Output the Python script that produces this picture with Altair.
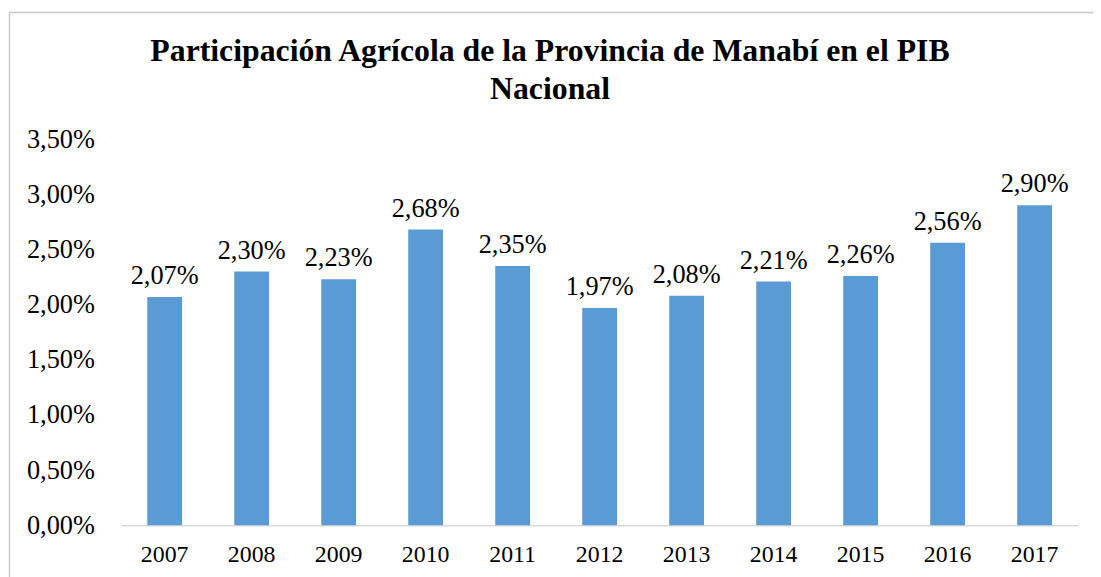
import altair as alt
import pandas as pd

years = ["2007", "2008", "2009", "2010", "2011", "2012", "2013", "2014", "2015", "2016", "2017"]
values = [2.07, 2.30, 2.23, 2.68, 2.35, 1.97, 2.08, 2.21, 2.26, 2.56, 2.90]
y_ticks = [0, 0.5, 1.0, 1.5, 2.0, 2.5, 3.0, 3.5]
title_lines = ["Participación Agrícola de la Provincia de Manabí en el PIB", "Nacional"]

df = pd.DataFrame({"year": years, "value": values})

FONT = "Liberation Serif"
W, H = 964, 389

x_enc = alt.X("year:N", sort=years,
              scale=alt.Scale(paddingInner=0.6, paddingOuter=0.3),
              axis=alt.Axis(title=None, labelAngle=0, ticks=False, domain=True,
                            domainColor="#d9d9d9", domainWidth=1.5,
                            labelFont=FONT, labelFontSize=24, labelColor="#000000",
                            labelPadding=17))
y_enc = alt.Y("value:Q",
              scale=alt.Scale(domain=[0, 3.5], nice=False, zero=True),
              axis=alt.Axis(title=None, values=y_ticks, grid=False, domain=False,
                            ticks=False, labelFont=FONT, labelFontSize=26.5,
                            labelColor="#000000", labelPadding=27,
                            labelExpr="replace(format(datum.value, '.2f'), '.', ',') + '%'"))

bars = alt.Chart(df).mark_bar(color="#5b9bd5").encode(x=x_enc, y=y_enc)

labels = alt.Chart(df).transform_calculate(
    lbl="replace(format(datum.value, '.2f'), '.', ',') + '%'"
).mark_text(font=FONT, fontSize=26.5, color="#000000", baseline="alphabetic",
            align="center", dy=-13).encode(x=alt.X("year:N", sort=years), y="value:Q", text="lbl:N")

frame = alt.Chart(alt.Data(values=[{"a": 1}])).mark_rect(
    filled=False, stroke="#c8c8c8", strokeWidth=1.5
).encode(x=alt.value(-112.5), x2=alt.value(W + 200), y=alt.value(-127.5), y2=alt.value(H + 200))

chart = alt.layer(frame, bars, labels).properties(
    width=W, height=H,
    padding={"left": 114, "top": 130, "right": 15, "bottom": 50},
    autosize=alt.AutoSizeParams(type="none"),
    title=alt.TitleParams(text=title_lines, font=FONT, fontSize=32, fontWeight="bold",
                          color="#000000", anchor="middle", frame="group", dx=-50, offset=0,
                          dy=127, baseline="bottom", lineHeight=38),
).configure_view(stroke=None)

chart.save("out.html", embed_options={"renderer": "svg", "actions": False})
